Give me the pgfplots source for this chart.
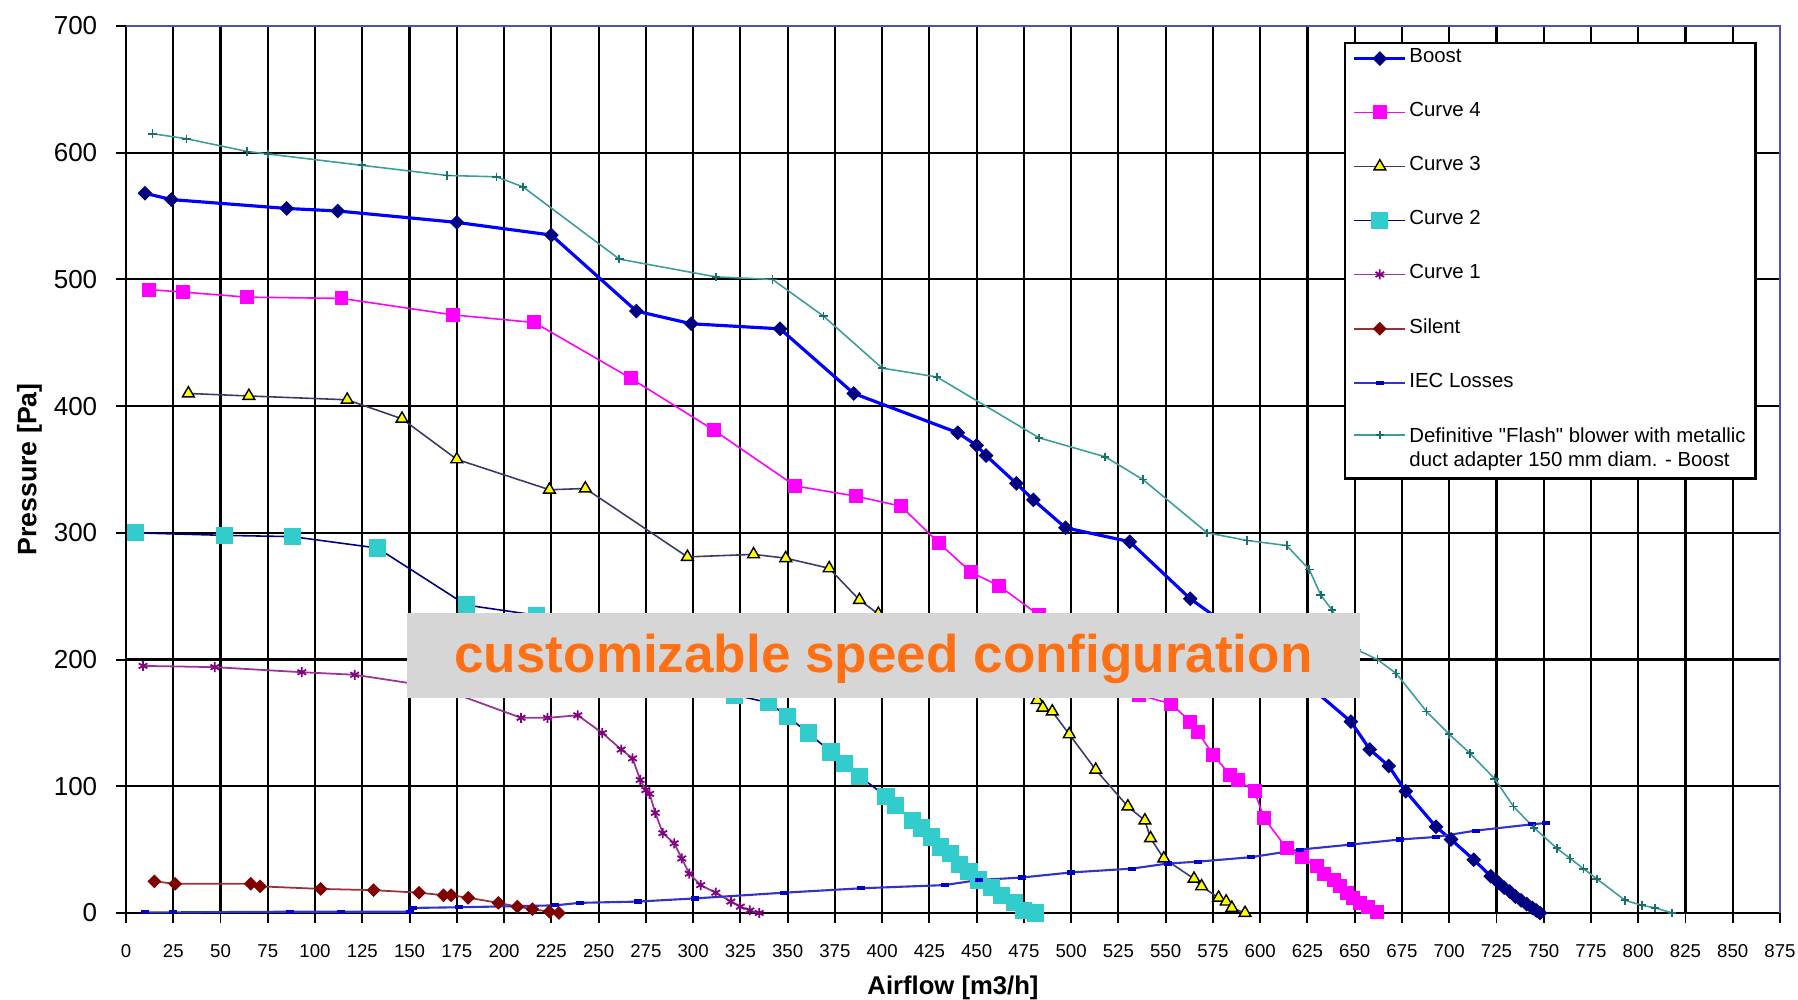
\documentclass[border=0pt]{standalone}
\usepackage{fontspec}
\setmainfont{Liberation Sans}
\newfontfamily\quotefont{Liberation Sans}[Ligatures=TeXOff]
\usepackage{pgfplots}
\pgfplotsset{compat=1.18}
\usetikzlibrary{plotmarks}

\definecolor{boostline}{HTML}{0000FF}
\definecolor{boostmark}{HTML}{000080}
\definecolor{cfour}{HTML}{FF00FF}
\definecolor{cthreeline}{HTML}{3A3A66}
\definecolor{cthreefill}{HTML}{FFFF00}
\definecolor{ctwoline}{HTML}{000080}
\definecolor{ctwofill}{HTML}{33CCCC}
\definecolor{coneline}{HTML}{993399}
\definecolor{conemark}{HTML}{800080}
\definecolor{silentline}{HTML}{993333}
\definecolor{silentmark}{HTML}{800000}
\definecolor{iecline}{HTML}{3333CC}
\definecolor{iecmark}{HTML}{0000CC}
\definecolor{flashline}{HTML}{3F9C9C}
\definecolor{flashmark}{HTML}{1A6E6E}
\definecolor{frameblue}{HTML}{5050B4}
\definecolor{overlaygrey}{HTML}{D6D6D6}
\definecolor{overlayorange}{HTML}{FF7014}

\begin{document}
\begin{tikzpicture}
\begin{axis}[
  set layers=standard,
  scale only axis, width=165.4mm, height=88.7mm,
  xmin=0, xmax=875, ymin=0, ymax=700,
  xtick={0,25,...,875}, ytick={0,100,...,700},
  axis x line*=bottom, axis y line*=left,
  axis line style={black, line width=0.6pt},
  tick align=outside, major tick length=1mm,
  tick style={black, line width=0.55pt},
  grid=major, major grid style={black, line width=0.6pt},
  /pgf/number format/assume math mode=true,
  xticklabel style={font=\fontsize{5.3}{6}\selectfont},
  yticklabel style={font=\fontsize{7.4}{8}\selectfont},
  xticklabel shift=0.9mm, yticklabel shift=0.64mm,
  xlabel={Airflow [m3/h]}, ylabel={Pressure [Pa]},
  every axis x label/.style={at={(rel axis cs:0.5,-0.0846)}, anchor=center,
    font=\bfseries\fontsize{7.3}{8}\selectfont},
  every axis y label/.style={at={(rel axis cs:-0.0583,0.5)}, anchor=center, rotate=90,
    font=\bfseries\fontsize{7.6}{8}\selectfont},
  clip=false,
  legend style={at={(0.7364,0.9823)}, anchor=north west,
    draw=black, line width=0.7pt, fill=white,
    font=\fontsize{5.8}{7.1}\selectfont,
    inner xsep=0.75mm, inner ysep=0.3mm, row sep=2.85mm,
    nodes={inner xsep=0.25mm, inner ysep=0.3mm},
    cells={anchor=west, align=left}},
  legend image code/.code={\draw[mark repeat=2,mark phase=2]
    plot coordinates {(0mm,0mm) (2.55mm,0mm) (5.1mm,0mm)};},
]

% Boost
\addplot[boostline, line width=0.9pt, mark=square*, mark size=0.47mm,
  mark options={rotate=45, fill=boostmark, draw=boostmark, line width=0.3pt}]
  coordinates {(10,568) (24,563) (85,556) (112,554) (175,545) (225,535)
  (270,475) (299,465) (346,461) (385,410) (440,379) (450,369) (455,361)
  (471,339) (480,326) (497,304) (531,293) (563,248) (590,219) (615,193)
  (648,151) (658,129) (668,116) (677,96) (693,68) (701,58) (713,42) (722,29)
  (726,24) (729,20) (732,17) (735,13) (738,10) (741,7) (744,4) (746,2) (748,0)};
\addlegendentry{Boost}

% Curve 4
\addplot[cfour, line width=0.45pt, mark=square*, mark size=0.62mm,
  mark options={fill=cfour, draw=cfour}]
  coordinates {(12,492) (30,490) (64,486) (114,485) (173,472) (216,466)
  (267,422) (311,381) (354,337) (386,329) (410,321) (430,292) (447,269)
  (462,258) (483,235) (497,220) (512,203) (524,188) (536,172) (553,165)
  (563,151) (567,143) (575,125) (584,109) (588,105) (597,96) (602,75)
  (614,51) (622,44) (630,37) (634,31) (639,26) (642,21) (646,16) (649,12)
  (653,8) (657,5) (662,1)};
\addlegendentry{Curve 4}

% Curve 3
\addplot[cthreeline, line width=0.45pt, mark=triangle*, mark size=0.68mm,
  mark options={fill=cthreefill, draw=black, line width=0.4pt}]
  coordinates {(33,410) (65,408) (117,405) (146,390) (175,358) (224,334)
  (243,335) (297,281) (332,283) (349,280) (372,272) (388,247) (398,236)
  (420,220) (445,203) (465,185) (482,168) (485,162) (490,159) (499,141)
  (513,113) (530,84) (539,73) (542,59) (549,43) (565,27) (569,21) (578,12)
  (582,9) (585,4) (592,0)};
\addlegendentry{Curve 3}

% Curve 2
\addplot[ctwoline, line width=0.45pt, mark=square*, mark size=0.78mm,
  mark options={fill=ctwofill, draw=ctwofill}]
  coordinates {(5,300) (52,298) (88,297) (133,288) (180,243) (217,235)
  (255,228) (290,200) (310,183) (322,172) (340,166) (350,155) (361,142)
  (373,127) (380,118) (388,108) (402,92) (407,85) (416,73) (421,67) (426,60)
  (431,52) (436,47) (441,38) (446,33) (451,26) (458,20) (463,14) (470,8)
  (475,2) (481,0)};
\addlegendentry{Curve 2}

% Curve 1
\addplot[coneline, line width=0.5pt, mark=asterisk, mark size=0.5mm,
  mark options={draw=conemark, line width=0.5pt}]
  coordinates {(9,195) (47,194) (93,190) (121,188) (165,178) (209,154)
  (223,154) (239,156) (252,142) (262,129) (268,122) (272,105) (275,97)
  (277,94) (280,79) (284,63) (290,55) (294,43) (298,31) (304,22) (312,16)
  (320,9) (325,5) (330,2) (335,0)};
\addlegendentry{Curve 1}

% Silent
\addplot[silentline, line width=0.5pt, mark=square*, mark size=0.4mm,
  mark options={rotate=45, fill=silentmark, draw=silentmark}]
  coordinates {(15,25) (26,23) (66,23) (71,21) (103,19) (131,18) (155,16)
  (168,14) (172,14) (181,12) (197,8) (207,5) (215,3) (224,1) (229,0)};
\addlegendentry{Silent}

% IEC Losses
\addplot[iecline, line width=0.6pt, mark=-, mark size=0.4mm,
  mark options={draw=iecmark, line width=1.2pt}]
  coordinates {(10,0.5) (25,0.5) (87,1) (114,1) (150,1) (152,4) (176,4.5)
  (227,6) (240,8) (271,9) (301,11.5) (348,16) (389,19.5) (433,22) (451,26)
  (474,28) (500,32) (532,35) (551,39) (567,40.5) (595,44) (621,50) (648,54)
  (674,58) (693,60) (714,65) (744,70) (751,71)};
\addlegendentry{IEC Losses}

% Flash blower
\addplot[flashline, line width=0.45pt, mark=+, mark size=0.42mm,
  mark options={draw=flashmark, line width=0.5pt},
  legend image code/.code={\draw[mark repeat=2,mark phase=2, yshift=1.46mm]
    plot coordinates {(0mm,0mm) (2.55mm,0mm) (5.1mm,0mm)};}]
  coordinates {(14,615) (32,611) (64,601) (75,599) (125,590) (170,582)
  (196,581) (210,573) (261,516) (312,502) (342,500) (369,471) (400,430)
  (429,423) (483,375) (518,360) (538,342) (572,300) (593,294) (614,290)
  (626,271) (632,251) (638,239) (651,208) (662,200) (672,189) (688,159)
  (700,141) (711,126) (724,106) (734,84) (745,67) (757,51) (764,43) (771,35)
  (778,27) (793,10) (802,6) (809,4) (818,0)};
\addlegendentry{Definitive {\quotefont"Flash"} blower with metallic\\duct adapter 150 mm diam. - Boost}

% frame top and right
\draw[frameblue, line width=0.6pt] (rel axis cs:0,1) -- (rel axis cs:1,1) -- (rel axis cs:1,0);

% overlay banner, above the curves
\begin{pgfonlayer}{axis foreground}
\node[fill=overlaygrey, minimum width=95.3mm, minimum height=8.5mm, inner sep=0pt]
  at (rel axis cs:0.458,0.2903) {};
\node[anchor=base, text=overlayorange, inner sep=0pt,
  font=\bfseries\fontsize{15.1}{18}\selectfont]
  at (rel axis cs:0.458,0.2706) {customizable speed configuration};
\end{pgfonlayer}
\end{axis}
\pgfresetboundingbox
\path[use as bounding box] (-12.6mm,-8.7mm) rectangle (167.2mm,91.3mm);
\end{tikzpicture}
\end{document}
